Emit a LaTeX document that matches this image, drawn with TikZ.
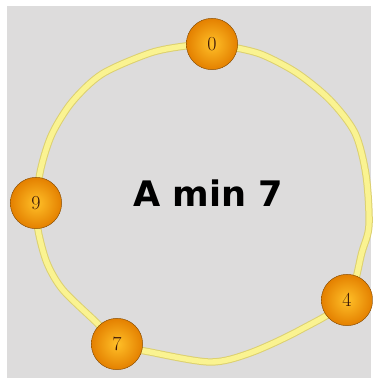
\documentclass[tikz,border=0pt]{standalone}
\usepackage{fontspec}
\newfontfamily\titlefont{DejaVu Sans}
\definecolor{bggray}{RGB}{221,220,220}
\definecolor{ringyellow}{RGB}{250,243,145}
\definecolor{ringedge}{RGB}{220,208,112}
\definecolor{ballorange}{RGB}{255,192,40}
\definecolor{balldark}{RGB}{228,128,0}
\definecolor{digitbrown}{RGB}{55,20,10}

\begin{document}
\begin{tikzpicture}[x=0.3mm, y=-0.3mm]
    \tikzstyle{ball} = [circle, minimum size=15.4mm, inner sep=0pt,
                        draw=balldark!60!black, line width=0.4pt,
                        inner color=ballorange, outer color=balldark,
                        text=digitbrown, font=\fontsize{17}{17}\selectfont]
    \tikzstyle{ring} = [ringyellow, line width=1.6mm,
                        preaction={draw=ringedge, line width=2.2mm}]

    \useasboundingbox (0,0) rectangle (374,383);
    \fill[bggray] (7,6) rectangle (371,378);

    % where the tones sit on the ring
    \coordinate (p0) at (212,44);
    \coordinate (p4) at (347,300);
    \coordinate (p7) at (117,344);
    \coordinate (p9) at (36,203);

    \draw[ring] plot[smooth cycle, tension=0.5] coordinates {
        (p0) (237,48) (263,55) (297,73) (330,100) (355,133) (366,175)
        (369,225) (362,252) (p4) (300,330) (250,353) (210,362) (150,352)
        (p7) (97,323) (63,290) (47,263) (38,230) (p9) (41,168) (52,134)
        (72,102) (102,74) (150,53) (185,46)};

    \node[ball] (b0) at (p0) {0};
    \node[ball] (b4) at (p4) {4};
    \node[ball] (b7) at (p7) {7};
    \node[ball] (b9) at (p9) {9};

    \node[font=\titlefont\bfseries\fontsize{30}{30}\selectfont] (chord) at (208,193) {A min 7};
\end{tikzpicture}
\end{document}
